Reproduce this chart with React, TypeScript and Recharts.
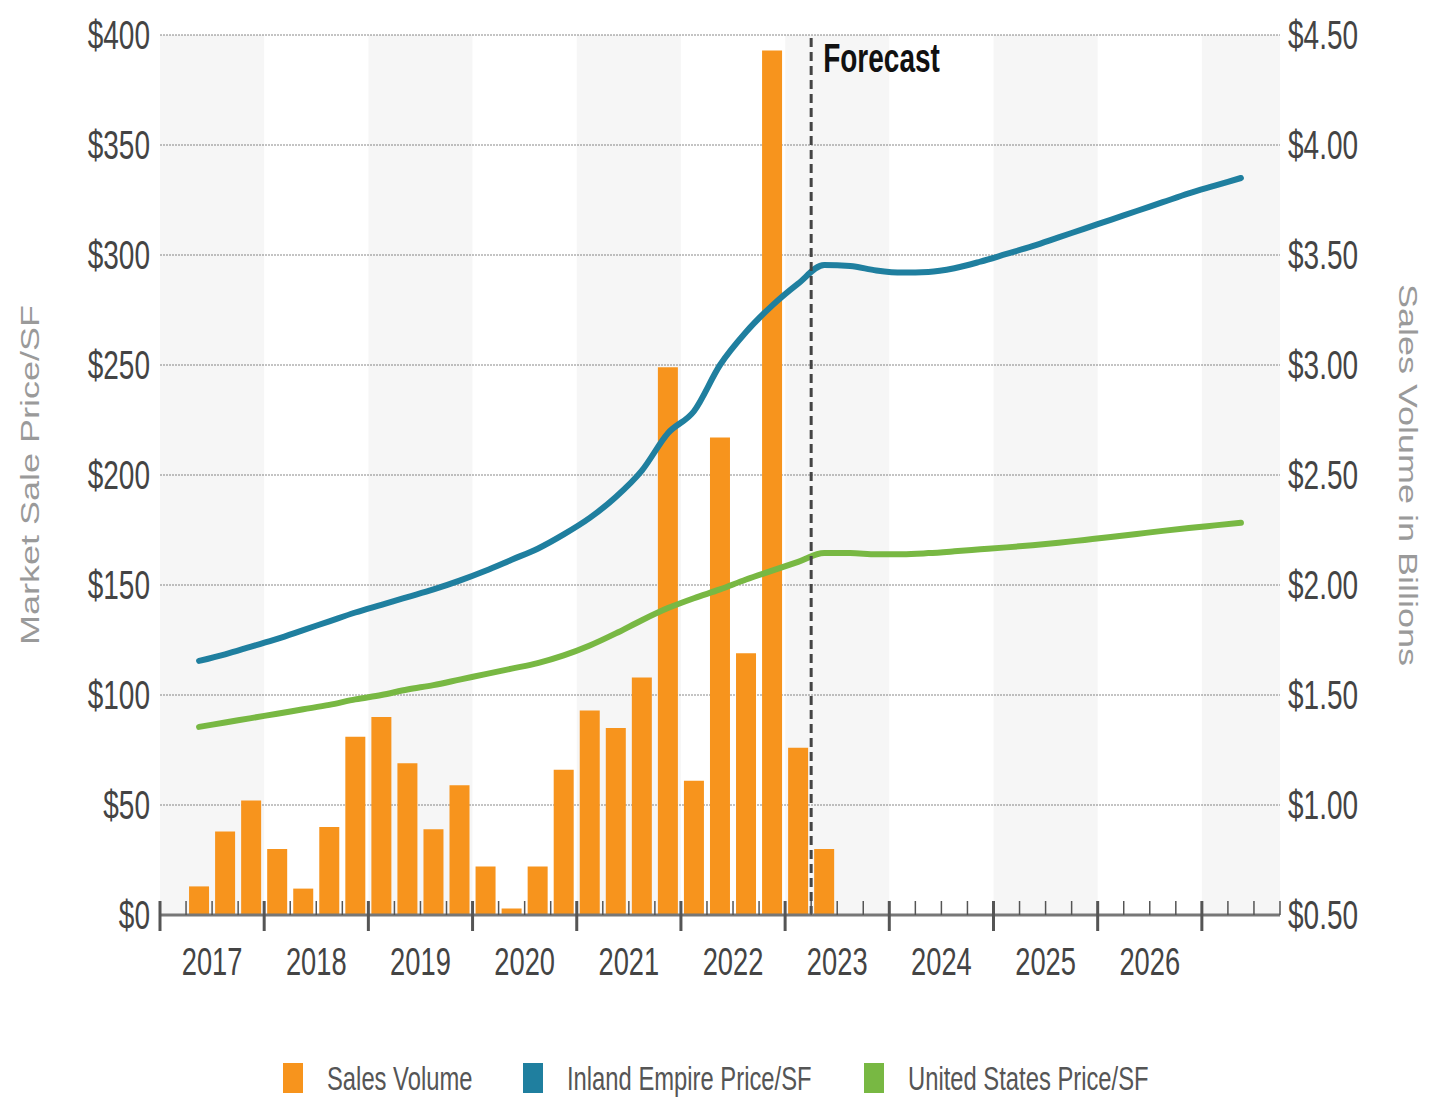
import React from "react";
import {
  ComposedChart, Bar, Line, XAxis, YAxis, CartesianGrid, ReferenceArea, ReferenceLine,
} from "recharts";

// quarters run 2017 Q1 .. 2027 Q3 (43 slots), history ends 2023 Q2
const yearLabels = ["2017", "2018", "2019", "2020", "2021", "2022", "2023", "2024", "2025", "2026"];
const quarterCount = 43;
const forecastStart = 25;

// Sales volume in billions, one value per quarter starting 2017 Q1
const salesVolume = [
  null, 0.63, 0.88, 1.02, 0.8, 0.62, 0.9, 1.31, 1.4, 1.19, 0.89, 1.09, 0.72,
  0.53, 0.72, 1.16, 1.43, 1.35, 1.58, 2.99, 1.11, 2.67, 1.69, 4.43, 1.26, 0.8,
];

// Inland Empire market sale price / SF
const inlandEmpire = [
  null, 115.5, 118.5, 122, 125.5, 129.5, 133.5, 137.5, 141, 144.5, 148, 152, 156.5,
  161.5, 166.5, 173, 180.5, 190, 202, 219, 229, 250, 265, 277, 287, 295.5,
  295, 293, 292, 292.3, 294, 297, 300.5, 304, 308, 312, 316, 320, 324, 328, 331.5, 335,
];

// United States market sale price / SF
const unitedStates = [
  null, 85.5, 87.5, 89.5, 91.5, 93.5, 95.5, 98, 100, 102.5, 104.5, 107, 109.5,
  112, 114.5, 118, 122.5, 128, 134, 139.5, 144, 148, 152.5, 156.5, 160.5, 164.5,
  164.5, 164, 164, 164.5, 165.3, 166.2, 167.1, 168.1, 169.2, 170.5, 171.8, 173.2, 174.6, 175.9, 177.1, 178.3,
];

const priceTicks = [0, 50, 100, 150, 200, 250, 300, 350, 400];
const volumeTicks = [0.5, 1, 1.5, 2, 2.5, 3, 3.5, 4, 4.5];

const ORANGE = "#f7941d";
const BLUE = "#1f7f9f";
const GREEN = "#78b843";
const FONT = '"Liberation Sans", Arial, sans-serif';
const SX = 0.7; // the source is squeezed horizontally

const rows = Array.from({ length: quarterCount }, (_, i) => ({
  t: i + 0.5,
  sales: salesVolume[i] ?? null,
  inland: inlandEmpire[i] ?? null,
  us: unitedStates[i] ?? null,
}));

const quarterTicks = Array.from({ length: quarterCount + 1 }, (_, i) => i);
// every other year is shaded, 2027 partial included
const shadedYears = [0, 2, 4, 6, 8, 10].map((k) => [k * 4, Math.min(k * 4 + 4, quarterCount)]);

function Squeezed({ x, y, size, anchor = "start", weight = "normal", fill = "#444", children }: any) {
  return (
    <text
      transform={`translate(${x},${y}) scale(${SX},1)`}
      textAnchor={anchor}
      fontSize={size}
      fontWeight={weight}
      fontFamily={FONT}
      fill={fill}
    >
      {children}
    </text>
  );
}

function QuarterTick({ x, y, payload }: any) {
  const v = payload.value;
  const major = v % 4 === 0;
  const label = v % 4 === 2 ? yearLabels[(v - 2) / 4] : null;
  return (
    <g>
      <line x1={x} x2={x} y1={y - 14} y2={major ? y + 16 : y} stroke="#555" strokeWidth={major ? 3 : 1.5} />
      {label && <Squeezed x={x} y={y + 60} size={39} anchor="middle">{label}</Squeezed>}
    </g>
  );
}

function LeftTick({ x, y, payload }: any) {
  return <Squeezed x={x} y={y + 14} size={40} anchor="end">{`$${payload.value}`}</Squeezed>;
}

function RightTick({ x, y, payload }: any) {
  return <Squeezed x={x} y={y + 14} size={40}>{`$${payload.value.toFixed(2)}`}</Squeezed>;
}

function AxisTitle({ viewBox, text, side }: any) {
  const cx = side === "left" ? viewBox.x + 30 : viewBox.x + 128;
  const cy = viewBox.y + viewBox.height / 2;
  return (
    <text
      transform={`translate(${cx},${cy}) rotate(${side === "left" ? -90 : 90}) scale(1,${SX})`}
      textAnchor="middle"
      dominantBaseline="central"
      fontSize={36}
      fontFamily={FONT}
      fill="#9a9a9a"
    >
      {text}
    </text>
  );
}

function ForecastLabel({ viewBox }: any) {
  return (
    <Squeezed x={viewBox.x + 12} y={viewBox.y + 37} size={40} weight="bold" fill="#111">
      Forecast
    </Squeezed>
  );
}

const legendItems = [
  { name: "Sales Volume", color: ORANGE, x: 283 },
  { name: "Inland Empire Price/SF", color: BLUE, x: 523 },
  { name: "United States Price/SF", color: GREEN, x: 864 },
];

function ChartLegend() {
  return (
    <svg width={1435} height={80} style={{ position: "absolute", left: 0, top: 1040 }}>
      {legendItems.map((item) => (
        <g key={item.name}>
          <rect x={item.x} y={23} width={20} height={30} fill={item.color} />
          <Squeezed x={item.x + 44} y={50} size={34} fill="#555">{item.name}</Squeezed>
        </g>
      ))}
    </svg>
  );
}

export default function App() {
  return (
    <div style={{ position: "absolute", left: 0, top: 0, width: 1435, height: 1103, background: "#fff" }}>
      <ComposedChart width={1435} height={1000} data={rows} margin={{ top: 35, right: 0, bottom: 0, left: 0 }}>
        <CartesianGrid yAxisId="left" vertical={false} stroke="#c4c4c4" strokeDasharray="2 1" strokeWidth={2} />
        {shadedYears.map(([a, b]) => (
          <ReferenceArea key={a} yAxisId="left" x1={a} x2={b} fill="#000" fillOpacity={0.035} strokeWidth={0} />
        ))}
        <XAxis
          dataKey="t"
          type="number"
          domain={[0, quarterCount]}
          ticks={quarterTicks}
          interval={0}
          tick={<QuarterTick />}
          tickLine={false}
          tickSize={0}
          tickMargin={0}
          axisLine={{ stroke: "#777", strokeWidth: 3 }}
          height={85}
        />
        <YAxis
          yAxisId="left"
          domain={[0, 400]}
          ticks={priceTicks}
          width={160}
          axisLine={false}
          tickLine={false}
          tickSize={0}
          tickMargin={10}
          tick={<LeftTick />}
          label={<AxisTitle text="Market Sale Price/SF" side="left" />}
        />
        <YAxis
          yAxisId="right"
          orientation="right"
          domain={[0.5, 4.5]}
          ticks={volumeTicks}
          width={155}
          axisLine={false}
          tickLine={false}
          tickSize={0}
          tickMargin={8}
          tick={<RightTick />}
          label={<AxisTitle text="Sales Volume in Billions" side="right" />}
        />
        <Bar yAxisId="right" dataKey="sales" fill={ORANGE} barSize={20} isAnimationActive={false} />
        <Line yAxisId="left" type="monotone" dataKey="inland" stroke={BLUE} strokeWidth={6} strokeLinecap="round" dot={false} activeDot={false} isAnimationActive={false} />
        <Line yAxisId="left" type="monotone" dataKey="us" stroke={GREEN} strokeWidth={6} strokeLinecap="round" dot={false} activeDot={false} isAnimationActive={false} />
        <ReferenceLine
          yAxisId="left"
          x={forecastStart}
          stroke="#444"
          strokeWidth={3}
          strokeDasharray="9 5"
          label={<ForecastLabel />}
        />
      </ComposedChart>
      <ChartLegend />
    </div>
  );
}
